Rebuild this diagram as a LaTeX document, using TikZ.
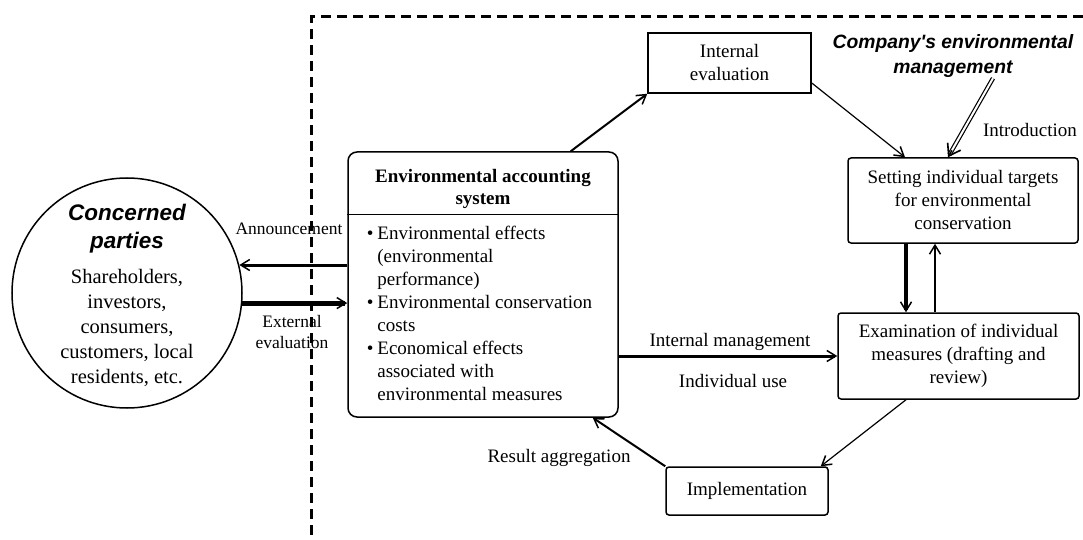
\documentclass[tikz,border=0pt]{standalone}
\usepackage{fontspec}
\setmainfont{Liberation Serif}
\newfontfamily\headfont{Liberation Sans}
\usetikzlibrary{calc,arrows.meta}

\begin{document}
\begin{tikzpicture}[x=1pt, y=-1pt, line width=1.5pt, >={Straight Barb[length=9pt,width=11pt,line width=1.5pt]},
    txt/.style={font=\fontsize{19}{23}\selectfont, align=center, inner sep=0pt},
    box/.style={shape=rectangle, draw, line width=1.5pt, txt}]
    \useasboundingbox (0, 0) rectangle (1083, 540);
    \draw[line width=3pt, dash pattern=on 10pt off 6pt] (1083, 17) -- (311, 17) -- (311, 540);
    % concerned parties
    \node[shape=circle, draw, minimum size=230pt, inner sep=0pt] (parties) at (127, 293) {};
    \node[txt, font=\headfont\bfseries\itshape\fontsize{22.5}{28}\selectfont] (partiestitle) at (127, 229) {Concerned\\parties};
    \node[txt, font=\fontsize{20.5}{25}\selectfont] (partieslist) at (127, 328) {Shareholders,\\investors,\\consumers,\\customers, local\\residents, etc.};
    % accounting system
    \node[box, rounded corners=9pt, minimum width=270pt, minimum height=265pt] (eas) at (483, 284.5) {};
    \node[txt, font=\bfseries\fontsize{19}{22}\selectfont] (eastitle) at (483, 189) {Environmental accounting\\system};
    \draw ($(eas.north west)+(0, 63)$) -- ($(eas.north east)+(0, 63)$);
    \node[txt, anchor=west, align=left] (easlist) at (366, 315) {\begin{tabular}{@{}l@{\hspace{4pt}}l@{}}
        \textbullet & Environmental effects\\ & (environmental\\ & performance)\\
        \textbullet & Environmental conservation\\ & costs\\
        \textbullet & Economical effects\\ & associated with\\ & environmental measures\end{tabular}};
    % management cycle
    \node[box, minimum width=163pt, minimum height=60pt] (inteval) at (729.5, 63) {Internal\\evaluation};
    \node[box, rounded corners=3pt, minimum width=230pt, minimum height=85pt] (targets) at (963, 200.5) {Setting individual targets\\for environmental\\conservation};
    \node[box, rounded corners=3pt, minimum width=241pt, minimum height=86pt] (measures) at (958.5, 356) {Examination of individual\\measures (drafting and\\review)};
    \node[box, rounded corners=3pt, minimum width=162pt, minimum height=48pt] (impl) at (747, 491) {Implementation};
    \node[txt, font=\headfont\bfseries\itshape\fontsize{19.3}{25}\selectfont] (compmgmt) at (953, 56) {Company's environmental\\management};
    % labels
    \node[txt, font=\fontsize{17.5}{21}\selectfont] (announce) at (289, 229) {Announcement};
    \node[txt, font=\fontsize{17.5}{21}\selectfont] (exteval) at (292, 332) {External\\evaluation};
    \node[txt] (intro) at (1030, 130) {Introduction};
    \node[txt] (intmgmt) at (730, 342) {Internal management};
    \node[txt] (induse) at (733, 381) {Individual use};
    \node[txt] (resagg) at (559, 458) {Result aggregation};
    % connectors
    \draw[->, line width=3pt] (parties.14 -| eas.west) -- (parties.14);
    \draw[->, line width=5pt] (parties.-5) -- (parties.-5 -| eas.west);
    \draw[->, line width=2pt] ([xshift=-48pt]eas.north east) -- (inteval.south west);
    \draw[->, line width=1.2pt] ([yshift=-20pt]inteval.east) -- ([xshift=-58pt]targets.north);
    \draw[line width=1.2pt, double, double distance=2pt, shorten >=3pt] ([xshift=40pt]compmgmt.south) -- ([xshift=-15pt]targets.north);
    \draw[-{Straight Barb[length=11pt,width=15pt,line width=1.6pt]}, shorten <=83pt] ([xshift=40pt]compmgmt.south) -- ([xshift=-15pt]targets.north);
    \draw[->, line width=4.5pt] ([xshift=-57pt]targets.south) -- ([xshift=-57pt]targets.south |- measures.north);
    \draw[->, line width=2.5pt] ([xshift=-28pt]targets.south |- measures.north) -- ([xshift=-28pt]targets.south);
    \draw[->, line width=3pt] (eas.east |- measures.west) -- (measures.west);
    \draw[->, line width=1.2pt] ([xshift=-52.5pt]measures.south) -- ([xshift=-8pt]impl.north east);
    \draw[->, line width=2pt] (impl.north west) -- ([xshift=-26pt]eas.south east);
\end{tikzpicture}
\end{document}
